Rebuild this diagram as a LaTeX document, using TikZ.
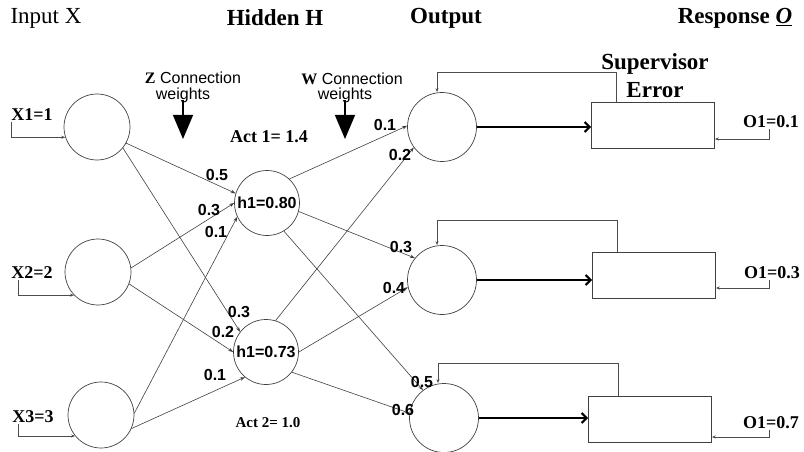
\documentclass[tikz,border=0pt]{standalone}
\usepackage{fontspec}
\setmainfont{Liberation Serif}
\setsansfont{Liberation Sans}
\usetikzlibrary{arrows.meta}

\tikzset{
  neuron/.style={circle, draw=black!75, line width=0.7pt, inner sep=0pt, minimum size=#1},
  neuron/.default=66pt,
  supbox/.style={draw=black!75, line width=0.7pt, minimum width=123pt, minimum height=46pt, inner sep=0pt},
  link/.style={black!75, line width=0.6pt, -{Stealth[length=5pt,width=3.5pt]}},
  fback/.style={black!70, line width=0.7pt, -{Stealth[length=4pt,width=3pt]}},
  fwd/.style={line width=2.2pt, -{Straight Barb[length=5pt,width=10pt]}},
  bigdown/.style={line width=1.3pt, -{Triangle[length=24pt,width=20pt]}},
  ttl/.style={font=\fontsize{23}{26}\selectfont\bfseries},
  val/.style={font=\fontsize{18}{20}\selectfont\bfseries, inner sep=1pt},
  wt/.style={font=\fontsize{16}{18}\selectfont\sffamily\bfseries, inner sep=0pt},
  note/.style={font=\fontsize{16}{18}\selectfont\sffamily, inner sep=0pt},
}

\begin{document}
\begin{tikzpicture}[x=1pt, y=-1pt]
\useasboundingbox (0,0) rectangle (804,452);

% layer titles
\node[font=\fontsize{23}{26}\selectfont] (tin) at (46,18) {Input X};
\node[ttl] (thid) at (275,18) {Hidden H};
\node[ttl] (tout) at (446,18) {Output};
\node[ttl] (tresp) at (735,18) {Response \underline{\textit{O}}};

% input layer
\node[neuron] (x1) at (97,127) {};
\node[neuron] (x2) at (98,272) {};
\node[neuron] (x3) at (101,415) {};
\node[val] (lx1) at (32,115) {X1=1};
\node[val] (lx2) at (32,273) {X2=2};
\node[val] (lx3) at (33,417) {X3=3};
\draw[fback] ([xshift=1pt]lx1.south west) |- (x1.198);
\draw[fback] ([xshift=8pt]lx2.south west) |- (x2.224);
\draw[fback] ([xshift=7pt]lx3.south west) |- (x3.219);

% hidden layer
\node[neuron=65pt, wt] (h1) at (267,203) {h1=0.80};
\node[neuron=65pt, wt] (h2) at (266,352) {h1=0.73};
\node[val] (act1) at (269,137) {Act 1= 1.4};
\node[font=\fontsize{15}{17}\selectfont\bfseries] (act2) at (268,423) {Act 2= 1.0};

% output layer and supervisor boxes
\node[neuron=69pt] (o1) at (442,127) {};
\node[neuron=69pt] (o2) at (442,280) {};
\node[neuron=69pt] (o3) at (444,418) {};
\node[supbox] (b1) at (653,125) {};
\node[supbox] (b2) at (654,275) {};
\node[supbox] (b3) at (650,419) {};
\node[font=\fontsize{23}{28}\selectfont\bfseries, align=center] (sup) at (655,76) {Supervisor\\Error};

% Z weights
\node[note] (zc) at (193,78) {{\rmfamily\bfseries Z} Connection};
\node[note] (zw) at (183,95) {weights};
\coordinate (zt) at (183,139);
\draw[bigdown] ([yshift=3pt]zw.south) -- (zt);

\draw[link] (x1.-29) -- (h1.163);
\draw[link] (x2.7) -- (h1.180);
\draw[link] (x3.3) -- (h1.205);
\draw[link] (x1.-39) -- (h2.142);
\draw[link] (x2.-21) -- (h2.180);
\draw[link] (x3.-24) -- (h2.230);
\node[wt] (z11) at (217,175) {0.5};
\node[wt] (z21) at (209,210) {0.3};
\node[wt] (z31) at (216,232) {0.1};
\node[wt] (z12) at (239,312) {0.3};
\node[wt] (z22) at (223,332) {0.2};
\node[wt] (z32) at (215,375) {0.1};

% W weights
\node[note] (wc) at (352,79) {{\rmfamily\bfseries W} Connection};
\node[note] (ww) at (345,95) {weights};
\coordinate (wtip) at (345,139);
\draw[bigdown] ([yshift=3pt]ww.south) -- (wtip);

\draw[link] (h1.47) -- (o1.178);
\draw[link] (h2.73) -- (o1.216);
\draw[link] (h1.-15) -- (o2.141);
\draw[link] (h2.0) -- (o2.192);
\draw[link] (h1.-59) -- (o3.127);
\draw[link] (h2.-38) -- (o3.172);
\node[wt] (w11) at (385,125) {0.1};
\node[wt] (w21) at (400,155) {0.2};
\node[wt] (w12) at (401,247) {0.3};
\node[wt] (w22) at (394,288) {0.4};
\node[wt] (w13) at (422,382) {0.5};
\node[wt] (w23) at (403,410) {0.6};

% outputs into the supervisor, error fed back
\draw[fwd] (o1.east) -- (o1.east -| b1.west);
\draw[fwd] (o2.east) -- (o2.east -| b2.west);
\draw[fwd] (o3.east) -- (o3.east -| b3.west);
\draw[fback] ([xshift=25pt]b1.north west) -- ++(0,-29) -| ([xshift=-5pt]o1.north);
\draw[fback] ([xshift=25pt]b2.north west) -- ++(0,-31) -| ([xshift=-5pt]o2.north);
\draw[fback] ([xshift=30pt]b3.north west) -- ++(0,-32) -| ([xshift=-6pt]o3.north);

% responses
\node[val] (r1) at (771,122) {O1=0.1};
\node[val] (r2) at (772,273) {O1=0.3};
\node[val] (r3) at (771,423) {O1=0.7};
\draw[fback] ([xshift=-2pt]r1.south) |- ([yshift=-14pt]b1.east);
\draw[fback] ([xshift=-3pt]r2.south) |- ([yshift=-13pt]b2.east);
\draw[fback] ([xshift=-2pt]r3.south) |- ([yshift=-18pt]b3.east);

\end{tikzpicture}
\end{document}
